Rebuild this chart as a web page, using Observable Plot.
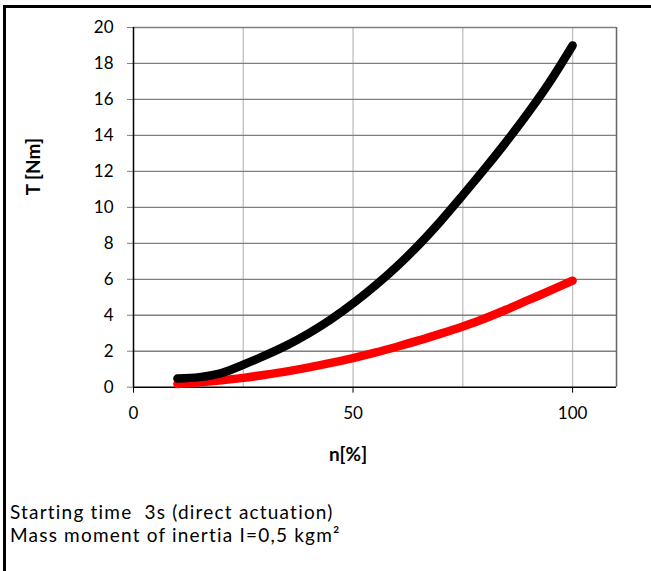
<!DOCTYPE html>
<html>
<head>
<meta charset="utf-8">
<script src="https://cdn.jsdelivr.net/npm/d3@7"></script>
<script src="https://cdn.jsdelivr.net/npm/@observablehq/plot@0.6"></script>
<style>
  html, body { margin: 0; padding: 0; background: #fff; }
  #frame {
    position: absolute; left: 3px; top: 5px; width: 648px; height: 566px;
    border-top: 3px solid #000; border-left: 3px solid #000; box-sizing: border-box;
    font-family: Lato, "Open Sans", sans-serif;
  }
  #caption { position: absolute; left: 4px; top: 492px; font-size: 19px; letter-spacing: 1.2px; line-height: 23px; color: #000; white-space: nowrap; }
  #caption div { height: 23px; }
  #chart svg g[aria-label^="x-axis"] text, #chart svg g[aria-label^="y-axis"] text { font-size: 17px !important; font-family: Lato, sans-serif; }
  #chart svg g[aria-label^="y-axis"] line, #chart svg g[aria-label^="y-axis"] path { stroke: #808080; }
</style>
</head>
<body>
<div id="frame">
  <div id="chart"></div>
  <div id="caption"><div>Starting time&nbsp; 3s (direct actuation)</div><div>Mass moment of inertia I=0,5 kgm²</div></div>
</div>
<script>
// Data
const nPercent = [10, 15, 20, 25, 30, 35, 40, 45, 50, 55, 60, 65, 70, 75, 80, 85, 90, 95, 100];
const torqueBlack = [0.48, 0.56, 0.78, 1.25, 1.77, 2.34, 3.01, 3.78, 4.66, 5.64, 6.72, 7.92, 9.25, 10.68, 12.15, 13.68, 15.3, 17.05, 19.0];
const torqueRed = [0.18, 0.27, 0.38, 0.52, 0.69, 0.88, 1.1, 1.35, 1.62, 1.92, 2.25, 2.6, 2.98, 3.38, 3.82, 4.32, 4.85, 5.38, 5.92];
const xTicks = [0, 50, 100];
const xGrid = [25, 50, 75, 100];
const yTicks = [0, 2, 4, 6, 8, 10, 12, 14, 16, 18, 20];
const xDomain = [0, 110];
const yDomain = [0, 20];
const xTitle = "n[%]";
const yTitle = "T [Nm]";

const black = nPercent.map((n, i) => ({n, T: torqueBlack[i]}));
const red = nPercent.map((n, i) => ({n, T: torqueRed[i]}));

const chart = Plot.plot({
  width: 645,
  height: 470,
  marginLeft: 127,
  marginRight: 35,
  marginTop: 19,
  marginBottom: 91.3,
  style: {fontFamily: "Lato, sans-serif", fontSize: "17px", background: "white", color: "black"},
  x: {domain: xDomain, ticks: xTicks, tickSize: 6, tickPadding: 14, tickFormat: d => String(d), label: null},
  y: {domain: yDomain, ticks: yTicks, tickSize: 6, tickPadding: 14, tickFormat: d => String(d), label: null},
  marks: [
    Plot.ruleX(xGrid, {stroke: "#c0c0c0", strokeWidth: 1.3}),
    Plot.ruleY(yTicks.filter(d => d > 0), {stroke: "#808080", strokeWidth: 1.3}),
    Plot.ruleX([xDomain[1]], {stroke: "#666", strokeWidth: 1.5}),
    Plot.ruleY([0], {stroke: "#000", strokeWidth: 1.5}),
    Plot.ruleX([0], {stroke: "#000", strokeWidth: 1.5}),
    Plot.line(red, {x: "n", y: "T", stroke: "#ff0000", strokeWidth: 8.5, curve: "monotone-x", strokeLinecap: "round"}),
    Plot.line(black, {x: "n", y: "T", stroke: "#000", strokeWidth: 8.5, curve: "monotone-x", strokeLinecap: "round"}),
    Plot.text([yTitle], {frameAnchor: "left", dx: -100, dy: -12, rotate: -90, fontWeight: "bold", fontSize: 19}),
    Plot.text([xTitle], {frameAnchor: "bottom", dx: -27, dy: 74, fontWeight: "bold", fontSize: 19})
  ]
});
document.getElementById("chart").appendChild(chart);
</script>
</body>
</html>
